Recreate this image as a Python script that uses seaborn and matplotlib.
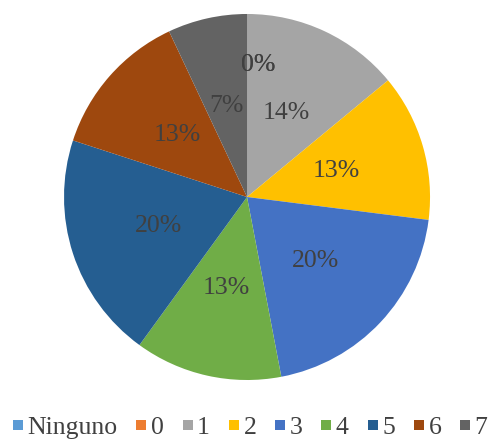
"""Pie chart: distribution by category (Ninguno, 0..7), Excel-like style."""

import matplotlib
matplotlib.use("Agg")
import matplotlib.pyplot as plt
import seaborn as sns
from matplotlib.lines import Line2D

# data
categories = ["Ninguno", "0", "1", "2", "3", "4", "5", "6", "7"]
percentages = [0, 0, 14, 13, 20, 13, 20, 13, 7]
colors = ["#5B9BD5", "#ED7D31", "#A5A5A5", "#FFC000", "#4472C4",
          "#70AD47", "#255E91", "#9E480E", "#636363"]

sns.set_theme(style="white")
plt.rcParams["font.family"] = ["Liberation Serif", "DejaVu Serif"]

fig = plt.figure(figsize=(4.99, 4.41), dpi=100)
ax = fig.add_axes([0.1283, 0.1383, 0.7335, 0.830])

wedges, texts, autotexts = ax.pie(
    percentages,
    colors=colors,
    startangle=90,
    counterclock=False,
    autopct=lambda p: f"{p:.0f}%",
    pctdistance=0.51,
    textprops={"fontsize": 18.5, "color": "#404040"},
    wedgeprops={"linewidth": 0},
)
ax.set_xlim(-1.0, 1.0)
ax.set_ylim(-1.0, 1.0)
ax.set_aspect("equal")

# Excel puts the zero-size labels a bit further out at the top
for val, t in zip(percentages, autotexts):
    if val == 0:
        t.set_position((0.06, 0.72))

handles = [Line2D([0], [0], marker="s", linestyle="none", markersize=7.5,
                  markerfacecolor=c, markeredgewidth=0) for c in colors]
fig.legend(handles, categories, loc="center", ncol=len(categories),
           bbox_to_anchor=(0.5, 0.03), frameon=False, fontsize=18.5,
           handletextpad=0.12, columnspacing=0.68, handlelength=0.5,
           borderpad=0.1, borderaxespad=0.0, labelcolor="#404040")

fig.savefig("out.png", dpi=100)
plt.close(fig)
